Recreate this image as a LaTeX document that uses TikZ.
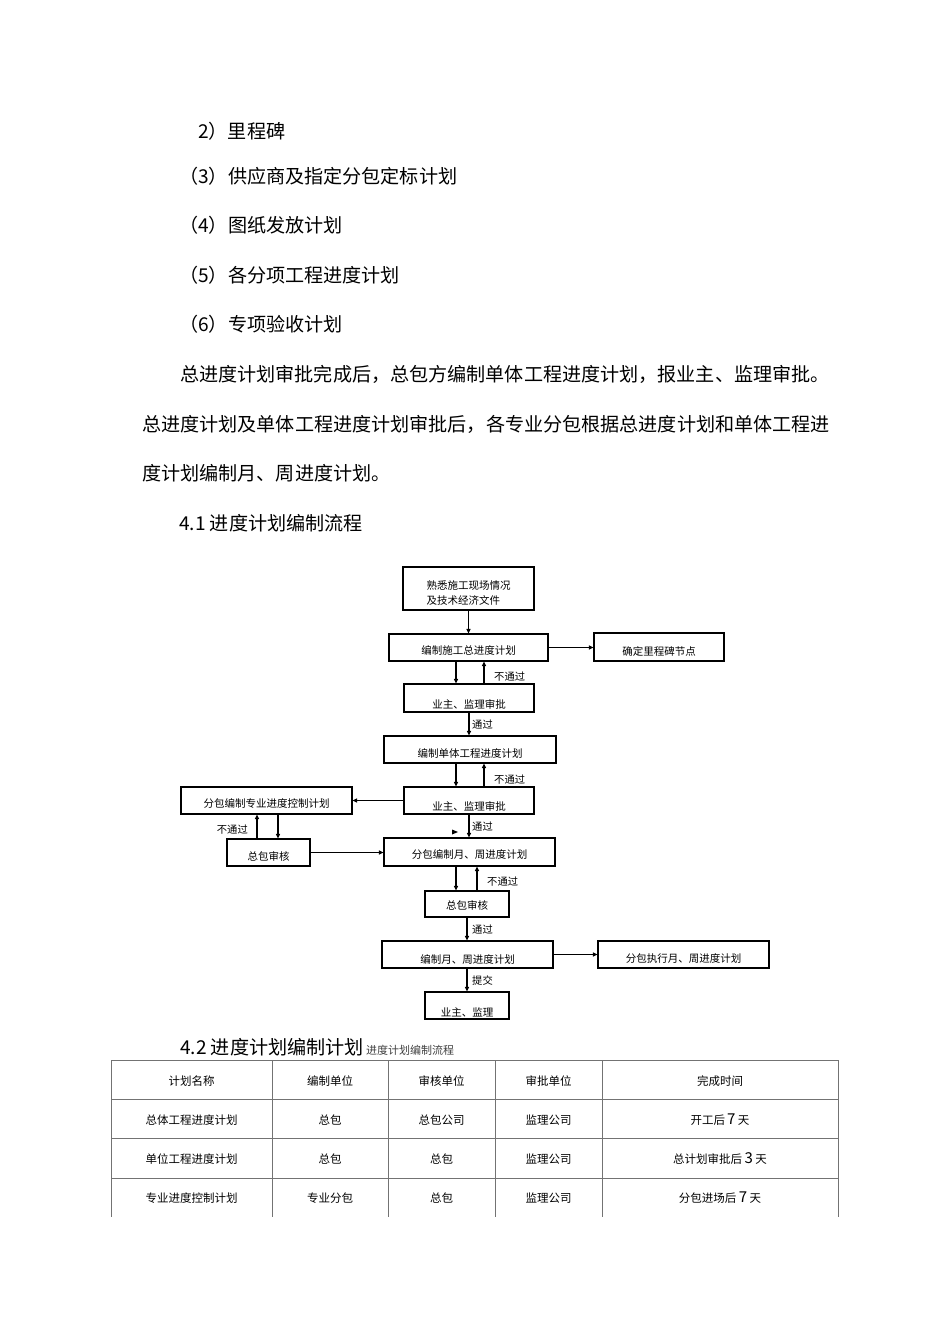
\documentclass[tikz,border=0pt]{standalone}
\usepackage{fontspec}
\setmainfont{Noto Sans CJK SC}
\usetikzlibrary{arrows.meta}
\newcommand{\myfs}[1]{\fontsize{#1}{#1}\selectfont}
\begin{document}
\begin{tikzpicture}[x=1pt,y=-1pt,
  body/.style={anchor=west, inner sep=0pt, font=\myfs{19.1}, text height=14.5pt, text depth=0pt},
  bx/.style args={#1/#2/#3}{draw, line width=1.1pt, inner sep=0pt, font=\myfs{10.5},
    minimum width=#1pt, minimum height=#2pt, text height=#3pt, text depth=0pt},
  arr/.style={line width=1.1pt, -{Triangle[length=4.5pt,width=4pt]}},
  lbl/.style={inner sep=0pt, font=\myfs{10.3}, text height=7.8pt, text depth=0pt},
  tline/.style={draw=black!55, line width=1pt},
  tc/.style={inner sep=0pt, font=\myfs{11.5}, text height=8.7pt, text depth=0pt}
]
\useasboundingbox (0,0) rectangle (950,1344);
\fill[white] (0,0) rectangle (950,1344);

% ---- body text ----
\node[body] (p2) at (198,131) {2）里程碑};
\node[body] (p3) at (179,176) {（3）供应商及指定分包定标计划};
\node[body] (p4) at (179,225) {（4）图纸发放计划};
\node[body] (p5) at (179,275) {（5）各分项工程进度计划};
\node[body] (p6) at (179,324) {（6）专项验收计划};
\node[body] (q1) at (180,374) {总进度计划审批完成后，总包方编制单体工程进度计划，报业主、监理审批。};
\node[body] (q2) at (142,424) {总进度计划及单体工程进度计划审批后，各专业分包根据总进度计划和单体工程进};
\node[body] (q3) at (142,473) {度计划编制月、周进度计划。};
\node[body] (h41) at (179,523) {4.1 进度计划编制流程};

% ---- flowchart boxes ----
\node[bx=131/43/31, align=left, font=\fontsize{10.5}{15}\selectfont] (box1) at (468.5,588.5) {熟悉施工现场情况\\及技术经济文件};
\node[bx=159/27/13] (box2) at (468.5,647.5) {编制施工总进度计划};
\node[bx=130/28/16] (mile) at (659,647) {确定里程碑节点};
\node[bx=130/28/20] (box3) at (469,698) {业主、监理审批};
\node[bx=172/27/15] (box4) at (470,749.5) {编制单体工程进度计划};
\node[bx=130/27/19] (box5) at (469,800.5) {业主、监理审批};
\node[bx=171/27/13] (lbox) at (266.5,800.5) {分包编制专业进度控制计划};
\node[bx=83/27/15] (zb1) at (268.5,852.5) {总包审核};
\node[bx=171/28/12] (box6) at (469.5,852) {分包编制月、周进度计划};
\node[bx=84/26/10] (zb2) at (467,904) {总包审核};
\node[bx=171/27/17] (box7) at (467.5,954.5) {编制月、周进度计划};
\node[bx=171/27/15] (exec) at (683.5,954.5) {分包执行月、周进度计划};
\node[bx=84/27/21] (box8) at (467,1005.5) {业主、监理};

% ---- x positions of vertical connectors ----
\coordinate (xa) at (456,0);
\coordinate (xb) at (484,0);
\coordinate (xc) at (469,0);
\coordinate (xd) at (257,0);
\coordinate (xe) at (278,0);
\coordinate (xf) at (477,0);
\coordinate (xg) at (467,0);

% ---- connectors ----
\draw[arr] (box1.south) -- (box2.north);
\draw[arr] (box2.east) -- (box2.east -| mile.west);
\draw[arr] (box2.south -| xa) -- (box3.north -| xa);
\draw[arr] (box3.north -| xb) -- (box2.south -| xb);
\draw[arr] (box3.south -| xc) -- (box4.north -| xc);
\draw[arr] (box4.south -| xa) -- (box5.north -| xa);
\draw[arr] (box5.north -| xb) -- (box4.south -| xb);
\draw[arr] (box5.west) -- (lbox.east);
\draw[arr] (zb1.north -| xd) -- (lbox.south -| xd);
\draw[arr] (lbox.south -| xe) -- (zb1.north -| xe);
\draw[arr] (zb1.east) -- (zb1.east -| box6.west);
\draw[arr] (box5.south -| xc) -- (box6.north -| xc);
\draw[arr] (box6.south -| xa) -- (zb2.north -| xa);
\draw[arr] (zb2.north -| xf) -- (box6.south -| xf);
\draw[arr] (zb2.south -| xg) -- (box7.north -| xg);
\draw[arr] (box7.east) -- (exec.west);
\draw[arr] (box7.south -| xg) -- (box8.north -| xg);
\fill (452,829.5) -- (458,832) -- (452,834.5) -- cycle;

% ---- connector labels ----
\node[lbl, anchor=west] (l1) at (494,677) {不通过};
\node[lbl, anchor=west] (l2) at (472,725) {通过};
\node[lbl, anchor=west] (l3) at (494,780) {不通过};
\node[lbl, anchor=east] (l4) at (248,830) {不通过};
\node[lbl, anchor=west] (l5) at (472,827) {通过};
\node[lbl, anchor=west] (l6) at (487,882) {不通过};
\node[lbl, anchor=west] (l7) at (472,930) {通过};
\node[lbl, anchor=west] (l8) at (472,981) {提交};

% ---- 4.2 heading ----
\node[body] (h42) at (180,1047) {4.2 进度计划编制计划};
\node[anchor=base west, inner sep=0pt, font=\myfs{11}, text=black!75] (h42s) at ([xshift=2pt]h42.base east) {进度计划编制流程};

% ---- table ----
\foreach \yy in {1060,1099,1138,1178} \draw[tline] (111,\yy) -- (838,\yy);
\foreach \xx in {111,272,388,495,602,838} \draw[tline] (\xx,1060) -- (\xx,1217);

\node[tc] (t11) at (191.5,1081.5) {计划名称};
\node[tc] (t12) at (330,1081.5) {编制单位};
\node[tc] (t13) at (441.5,1081.5) {审核单位};
\node[tc] (t14) at (548.5,1081.5) {审批单位};
\node[tc] (t15) at (720,1081.5) {完成时间};

\node[tc] (t21) at (191.5,1120.5) {总体工程进度计划};
\node[tc] (t22) at (330,1120.5) {总包};
\node[tc] (t23) at (441.5,1120.5) {总包公司};
\node[tc] (t24) at (548.5,1120.5) {监理公司};
\node[tc] (t25) at (720,1120.5) {开工后\,{\myfs{15}7} 天};

\node[tc] (t31) at (191.5,1159.5) {单位工程进度计划};
\node[tc] (t32) at (330,1159.5) {总包};
\node[tc] (t33) at (441.5,1159.5) {总包};
\node[tc] (t34) at (548.5,1159.5) {监理公司};
\node[tc] (t35) at (720,1159.5) {总计划审批后 {\myfs{15}3} 天};

\node[tc] (t41) at (191.5,1198.5) {专业进度控制计划};
\node[tc] (t42) at (330,1198.5) {专业分包};
\node[tc] (t43) at (441.5,1198.5) {总包};
\node[tc] (t44) at (548.5,1198.5) {监理公司};
\node[tc] (t45) at (720,1198.5) {分包进场后 {\myfs{15}7} 天};
\end{tikzpicture}
\end{document}
